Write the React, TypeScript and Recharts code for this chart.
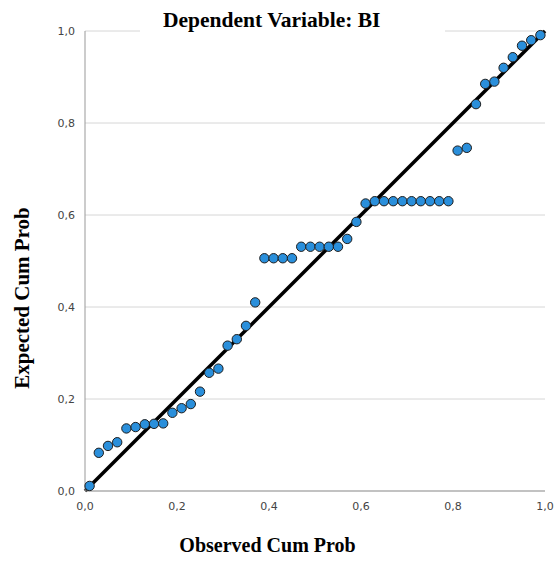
import { ScatterChart, Scatter, XAxis, YAxis, CartesianGrid, ReferenceLine } from "recharts";

const observed = [
  0.01, 0.03, 0.05, 0.07, 0.09, 0.11, 0.13, 0.15, 0.17, 0.19,
  0.21, 0.23, 0.25, 0.27, 0.29, 0.31, 0.33, 0.35, 0.37, 0.39,
  0.41, 0.43, 0.45, 0.47, 0.49, 0.51, 0.53, 0.55, 0.57, 0.59,
  0.61, 0.63, 0.65, 0.67, 0.69, 0.71, 0.73, 0.75, 0.77, 0.79,
  0.81, 0.83, 0.85, 0.87, 0.89, 0.91, 0.93, 0.95, 0.97, 0.99,
];

const expected = [
  0.011, 0.083, 0.098, 0.106, 0.136, 0.139, 0.145, 0.146, 0.147, 0.17,
  0.18, 0.189, 0.216, 0.257, 0.266, 0.316, 0.33, 0.359, 0.41, 0.506,
  0.506, 0.506, 0.506, 0.531, 0.531, 0.531, 0.531, 0.531, 0.548, 0.585,
  0.625, 0.63, 0.63, 0.63, 0.63, 0.63, 0.63, 0.63, 0.63, 0.63,
  0.74, 0.746, 0.841, 0.885, 0.89, 0.92, 0.943, 0.968, 0.98, 0.991,
];

const ticks = [0, 0.2, 0.4, 0.6, 0.8, 1.0];

const points = observed.map((x, i) => ({ x, y: expected[i] }));

const fmt = (v: number) => v.toFixed(1).replace(".", ",");

const tickStyle = { fill: "#444", fontSize: 11, fontFamily: "DejaVu Sans" };

const titleFont = {
  fontFamily: "Liberation Serif",
  fontWeight: "bold" as const,
  color: "#000",
};

export default function App() {
  return (
    <div style={{ position: "absolute", left: 0, top: 0, width: 557, height: 561, background: "#fff" }}>
      <ScatterChart width={557} height={561} margin={{ top: 31, right: 12, left: 0, bottom: 0 }}>
        <CartesianGrid horizontal={true} vertical={false} stroke="#d6d6d6" />
        <XAxis
          type="number"
          dataKey="x"
          domain={[0, 1]}
          ticks={ticks}
          tickFormatter={fmt}
          tick={tickStyle}
          tickLine={false}
          tickSize={9}
          axisLine={{ stroke: "#999" }}
          height={70}
        />
        <YAxis
          type="number"
          dataKey="y"
          domain={[0, 1]}
          ticks={ticks}
          tickFormatter={fmt}
          tick={tickStyle}
          tickLine={false}
          tickSize={8}
          axisLine={{ stroke: "#999" }}
          width={85}
        />
        <Scatter
          data={points}
          fill="#2a8fdb"
          isAnimationActive={false}
          shape={(p: any) => (
            <circle cx={p.cx} cy={p.cy} r={4.7} fill="#2a8fdb" stroke="#1e1e1e" strokeWidth={1} />
          )}
        />
        <ReferenceLine
          segment={[{ x: 0, y: 0 }, { x: 1, y: 1 }]}
          stroke="#000"
          strokeWidth={3.5}
        />
      </ScatterChart>
      <div
        style={{
          ...titleFont,
          fontSize: 21.5,
          position: "absolute",
          left: 140,
          width: 282,
          paddingLeft: 23,
          top: 9,
          height: 25,
          background: "#fff",
          textAlign: "left",
          lineHeight: "23px",
          whiteSpace: "nowrap",
        }}
      >
        Dependent Variable: BI
      </div>
      <div
        style={{
          ...titleFont,
          fontSize: 20,
          position: "absolute",
          left: 0,
          width: 535,
          top: 535,
          textAlign: "center",
          lineHeight: "20px",
        }}
      >
        Observed Cum Prob
      </div>
      <div
        style={{
          ...titleFont,
          fontSize: 21,
          position: "absolute",
          left: 22,
          top: 298,
          transform: "translate(-50%, -50%) rotate(-90deg)",
          whiteSpace: "nowrap",
          lineHeight: "21px",
        }}
      >
        Expected Cum Prob
      </div>
    </div>
  );
}
